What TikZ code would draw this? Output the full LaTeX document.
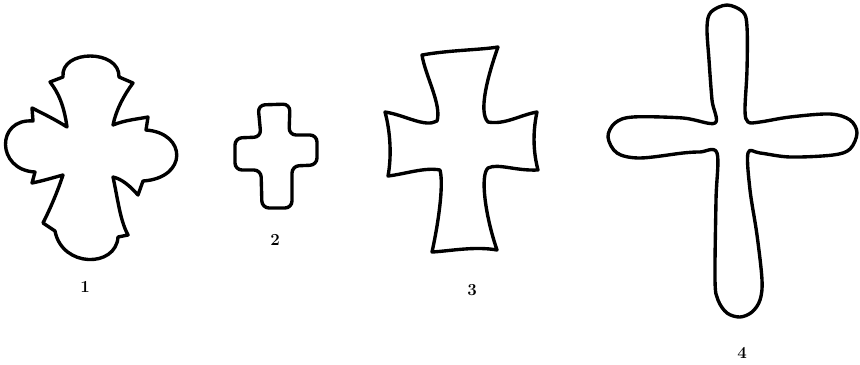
\documentclass[tikz,border=0pt]{standalone}
\usepackage{tikz}
\usetikzlibrary{calc}

\begin{document}
\begin{tikzpicture}[
    x=0.025cm, y=-0.025cm,
    outline/.style={line width=2.4pt, line join=round, line cap=round, draw=black},
    numlabel/.style={font=\large\bfseries, text=black, inner sep=0pt},
]

\useasboundingbox (0,0) rectangle (860,364);

% Cross 1 (thorned lobes)
\draw[outline] (67,127) .. controls (64,105) and (58,92) .. (50,82) -- (63,77)
    .. controls (60,49) and (120,49) .. (119,77) -- (133,83)
    .. controls (124,95) and (116,110) .. (113,125)
    .. controls (125,120) and (138,119) .. (148,117) -- (146,130)
    .. controls (187,133) and (188,178) .. (143,181) -- (138,195)
    .. controls (130,186) and (122,179) .. (113,177)
    .. controls (118,200) and (120,220) .. (128,235) -- (118,237)
    .. controls (116,268) and (62,268) .. (55,231) -- (43,223)
    .. controls (52,205) and (58,190) .. (63,175)
    .. controls (52,178) and (42,181) .. (32,183) -- (35,172)
    .. controls (-4,170) and (-4,118) .. (33,121) -- (32,108)
    .. controls (44,114) and (56,120) .. cycle;

% Cross 2 (small, rounded)
\draw[outline, rounded corners=5pt] (258,105) -- (290,104) -- (289,135) -- (317,135)
    -- (317,165) -- (292,166) -- (292,208) -- (262,208) -- (261,170)
    -- (235,170) -- (235,138) -- (261,137) -- cycle;

% Cross 3 (flared arms)
\draw[outline] (422,55) .. controls (450,50) and (480,50) .. (498,47)
    .. controls (488,75) and (478,112) .. (488,122)
    .. controls (505,125) and (520,115) .. (537,112)
    .. controls (532,135) and (534,155) .. (538,170)
    .. controls (515,171) and (498,163) .. (488,168)
    .. controls (480,175) and (485,215) .. (497,250)
    .. controls (475,246) and (450,251) .. (432,252)
    .. controls (438,225) and (444,185) .. (440,170)
    .. controls (425,167) and (405,174) .. (388,176)
    .. controls (392,155) and (390,130) .. (385,112)
    .. controls (405,115) and (425,128) .. (437,121)
    .. controls (442,105) and (425,75) .. cycle;

% Cross 4 (long, rounded ends)
\draw[outline] plot[smooth cycle, tension=0.55] coordinates {
    (727,5) (743,12) (747,27) (747,70) (745,110) (748,122)
    (760,122) (790,117) (830,114) (850,120) (857,133) (850,149)
    (833,155) (790,157) (760,153) (748,153)
    (750,190) (757,235) (762,280) (760,300) (752,312) (740,317)
    (727,313) (718,300) (715,280) (716,200) (717,153)
    (700,152) (683,153) (640,158) (617,153) (608,137) (615,123)
    (633,117) (683,118) (715,123)
    (712,100) (709,60) (707,27) (711,12)};

% Numbers
\node[numlabel] (num1) at (85,287) {1};
\node[numlabel] (num2) at (275,240) {2};
\node[numlabel] (num3) at (472,290) {3};
\node[numlabel] (num4) at (742,353) {4};

\end{tikzpicture}
\end{document}
